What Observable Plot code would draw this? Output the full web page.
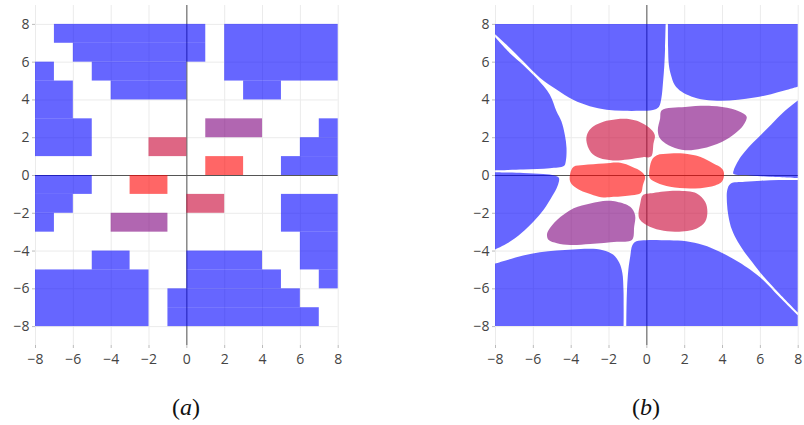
<!DOCTYPE html>
<html>
<head>
<meta charset="utf-8">
<script src="https://cdn.jsdelivr.net/npm/d3@7"></script>
<script src="https://cdn.jsdelivr.net/npm/@observablehq/plot@0.6"></script>
<style>
  html, body { margin: 0; padding: 0; background: #fff; }
  #wrap { position: relative; width: 804px; height: 425px; overflow: hidden; }
  .panel { position: absolute; top: 0; }
  .cap { position: absolute; top: 394px; width: 80px; margin-left: -40px; text-align: center;
         font-family: "Liberation Serif", "DejaVu Serif", serif; font-size: 24px; color: #111; line-height: normal; }
</style>
</head>
<body>
<div id="wrap"></div>
<script>
// ---------- shared ----------
const ticks = [-8, -6, -4, -2, 0, 2, 4, 6, 8];
const captions = ["a", "b"];
const edge = 8;

// ---------- panel (a): grid cells [x1, x2, y1, y2] ----------
const blueCellsA = [
  [-7, 1, 7, 8], [-6, 1, 6, 7], [-5, 0, 5, 6], [-4, 0, 4, 5],
  [-8, -7, 5, 6], [-8, -6, 3, 5], [-8, -5, 1, 3],
  [2, 8, 5, 8], [3, 5, 4, 5],
  [7, 8, 2, 3], [6, 8, 1, 2], [5, 8, 0, 1],
  [-8, -5, -1, 0], [-8, -6, -2, -1], [-8, -7, -3, -2],
  [-5, -3, -5, -4], [-8, -2, -8, -5],
  [-1, 6, -7, -6], [-1, 7, -8, -7], [0, 4, -5, -4], [0, 5, -6, -5],
  [5, 8, -3, -1], [6, 8, -5, -3], [7, 8, -6, -5]
];
const redCellsA = [[1, 3, 0, 1], [-3, -1, -1, 0]];
const pinkCellsA = [[-2, 0, 1, 2], [0, 2, -2, -1]];
const purpleCellsA = [[1, 4, 2, 3], [-4, -1, -3, -2]];

// ---------- panel (b): region boundaries [x, y] ----------
const blueTop_L = [[-8,7.45],[-7.39,6.89],[-6.51,6.02],[-5.63,5.15],[-4.75,4.52],[-3.87,3.98],[-2.99,3.64],[-2.11,3.46],[-1.23,3.40],[-0.3,3.40],[0.35,3.44],[0.66,3.60],[0.80,4.10],[0.88,4.90],[0.95,5.80],[0.99,6.70],[1.02,8]];
const blueTop_R = [[1.14,8],[1.15,6.71],[1.19,5.83],[1.30,5.30],[1.50,4.77],[1.85,4.42],[2.37,4.16],[3.08,3.98],[3.96,3.93],[4.84,3.98],[5.72,4.10],[6.59,4.28],[7.30,4.47],[8,4.67]];
const blueLeft_U = [[-8,7.30],[-7.21,6.45],[-6.51,5.83],[-5.81,5.13],[-5.10,4.25],[-4.75,3.37],[-4.49,2.84],[-4.31,2.13],[-4.22,1.43],[-4.26,0.72],[-4.36,0.47],[-5.1,0.36],[-6.5,0.29],[-8,0.25]];
const blueLeft_D = [[-8,0.15],[-6.5,0.11],[-5.45,0.05],[-4.85,-0.03],[-4.62,-0.16],[-4.70,-0.60],[-4.98,-1.13],[-5.42,-1.83],[-5.95,-2.45],[-6.60,-3.07],[-7.30,-3.59],[-8,-3.95]];
const blueBottom_L = [[-8,-4.69],[-7.39,-4.51],[-6.51,-4.26],[-5.63,-4.09],[-4.75,-4.0],[-3.87,-3.95],[-2.99,-3.91],[-2.29,-3.98],[-1.76,-4.21],[-1.43,-4.65],[-1.27,-5.18],[-1.21,-6.06],[-1.20,-7.1],[-1.20,-8]];
const blueBottom_R = [[-1.06,-8],[-1.05,-7],[-1.02,-6],[-0.95,-5.0],[-0.85,-4.3],[-0.74,-3.72],[-0.53,-3.51],[0,-3.45],[0.8,-3.45],[1.67,-3.47],[2.55,-3.59],[3.43,-3.86],[4.2,-4.22],[4.9,-4.62],[5.5,-5.02],[6.2,-5.58],[7.0,-6.42],[8,-7.42]];
const blueRight_U = [[8,3.95],[7.30,3.37],[6.59,2.66],[5.89,1.96],[5.37,1.43],[5.01,0.99],[4.75,0.55],[4.62,0.25],[4.6,0.06],[5.5,-0.03],[6.5,-0.09],[8,-0.16]];
const blueRight_D = [[8,-0.26],[7,-0.27],[6.07,-0.30],[5.19,-0.36],[4.45,-0.46],[4.28,-0.78],[4.26,-1.48],[4.34,-2.18],[4.52,-2.89],[4.84,-3.55],[5.2,-4.1],[5.6,-4.62],[6.2,-5.38],[7.0,-6.25],[8,-7.28]];

const pinkUL = [[-3.20,1.87],[-3.10,2.30],[-2.80,2.62],[-2.30,2.85],[-1.60,2.98],[-0.90,2.98],[-0.40,2.85],[0.10,2.55],[0.42,2.15],[0.35,1.70],[0.22,1.00],[-0.20,0.97],[-1.00,0.85],[-1.80,0.80],[-2.50,0.92],[-2.95,1.22]];
const purpleUR = [[0.79,3.45],[2.02,3.63],[3.43,3.68],[4.48,3.54],[5.10,3.28],[5.28,3.10],[5.10,2.66],[4.66,2.22],[3.96,1.78],[2.90,1.43],[2.02,1.34],[1.32,1.52],[0.70,1.96],[0.58,2.40],[0.70,3.01]];
const redL = [[-4.05,0.11],[-3.87,0.46],[-3.34,0.55],[-2.29,0.63],[-1.41,0.67],[-0.79,0.46],[-0.27,0.19],[-0.09,-0.07],[-0.21,-0.51],[-0.32,-0.92],[-0.79,-1.04],[-1.76,-1.13],[-2.29,-1.16],[-2.82,-1.04],[-3.69,-0.69],[-4.05,-0.33]];
const redR = [[0.12,0.02],[0.26,0.81],[0.53,1.07],[1.23,1.16],[1.93,1.16],[2.81,0.99],[3.52,0.63],[3.96,0.37],[4.08,0.11],[3.96,-0.33],[3.34,-0.60],[2.29,-0.69],[1.23,-0.60],[0.53,-0.39],[0.17,-0.16]];
const pinkLR = [[-0.44,-2.10],[-0.35,-1.48],[-0.21,-1.04],[0.35,-0.92],[1.58,-0.81],[2.64,-0.95],[3.08,-1.39],[3.20,-1.92],[3.08,-2.45],[2.64,-2.80],[1.58,-2.98],[0.70,-2.89],[0,-2.63],[-0.35,-2.36]];
const purpleLL = [[-5.28,-3.15],[-5.19,-2.89],[-4.75,-2.36],[-3.87,-1.74],[-2.99,-1.48],[-2.11,-1.34],[-1.58,-1.39],[-0.88,-1.66],[-0.62,-2.10],[-0.67,-2.71],[-0.79,-3.42],[-1.58,-3.51],[-2.99,-3.63],[-4.05,-3.68],[-4.75,-3.59],[-5.19,-3.42]];

// ---------- styles ----------
const C = { blue: "#0000ff", red: "#ff0000", pink: "rgb(200,0,50)", purple: "rgb(125,0,125)" };
const OP = 0.6;
const FONT = "'Open Sans', sans-serif";
const fmt = d => d < 0 ? "\u2212" + Math.abs(d) : String(d);

function cells(data, color) {
  return Plot.rect(data, { x1: d => d[0], x2: d => d[1], y1: d => d[2], y2: d => d[3], fill: color, fillOpacity: OP });
}
function region(data, side) {
  const o = { curve: "catmull-rom", fill: C.blue, fillOpacity: OP };
  if (side === "top" || side === "bottom") {
    const b = side === "top" ? edge : -edge;
    return Plot.area(data, { ...o, x1: d => d[0], y1: d => d[1], x2: d => d[0], y2: () => b });
  } else {
    const b = side === "right" ? edge : -edge;
    return Plot.area(data, { ...o, y1: d => d[1], x1: d => d[0], y2: d => d[1], x2: () => b });
  }
}
function blob(data, color) {
  return Plot.line(data, { x: d => d[0], y: d => d[1], curve: "catmull-rom-closed", fill: color, fillOpacity: OP, stroke: "none" });
}

function panel(marks) {
  return Plot.plot({
    width: 350, height: 375,
    marginLeft: 35, marginRight: 12.3, marginTop: 5, marginBottom: 30,
    x: { domain: [-8, 8], label: null },
    y: { domain: [-9, 9], label: null },
    style: { fontFamily: FONT, fontSize: "14px", background: "white", overflow: "visible" },
    marks: [
      Plot.gridX(ticks, { stroke: "#ebebeb", strokeOpacity: 1 }),
      Plot.gridY(ticks, { stroke: "#ebebeb", strokeOpacity: 1 }),
      Plot.ruleX([0], { stroke: "#555", strokeWidth: 1 }),
      Plot.ruleY([0], { stroke: "#555", strokeWidth: 1 }),
      ...marks,
      Plot.axisX(ticks, { anchor: "bottom", tickSize: 3, tickPadding: 6, tickFormat: fmt, stroke: "#bbb", fill: "#444", label: null, fontSize: 14, fontFamily: FONT }),
      Plot.axisY(ticks, { anchor: "left", tickSize: 3, tickPadding: 3, tickFormat: fmt, stroke: "#bbb", fill: "#444", label: null, fontSize: 14, fontFamily: FONT })
    ]
  });
}

const plotA = panel([
  cells(blueCellsA, C.blue),
  cells(redCellsA, C.red),
  cells(pinkCellsA, C.pink),
  cells(purpleCellsA, C.purple)
]);

const plotB = panel([
  region(blueTop_L, "top"),
  region(blueTop_R, "top"),
  region(blueLeft_U, "left"),
  region(blueLeft_D, "left"),
  region(blueBottom_L, "bottom"),
  region(blueBottom_R, "bottom"),
  region(blueRight_U, "right"),
  region(blueRight_D, "right"),
  blob(pinkUL, C.pink),
  blob(purpleUR, C.purple),
  blob(redL, C.red),
  blob(redR, C.red),
  blob(pinkLR, C.pink),
  blob(purpleLL, C.purple)
]);

const wrap = document.getElementById("wrap");
[plotA, plotB].forEach((p, i) => {
  p.classList.add("panel");
  p.style.left = (i * 460) + "px";
  wrap.appendChild(p);
});
const capX = [186, 646];
captions.forEach((c, i) => {
  const div = document.createElement("div");
  div.className = "cap";
  div.style.left = capX[i] + "px";
  div.innerHTML = "(<i>" + c + "</i>)";
  wrap.appendChild(div);
});
</script>
</body>
</html>
